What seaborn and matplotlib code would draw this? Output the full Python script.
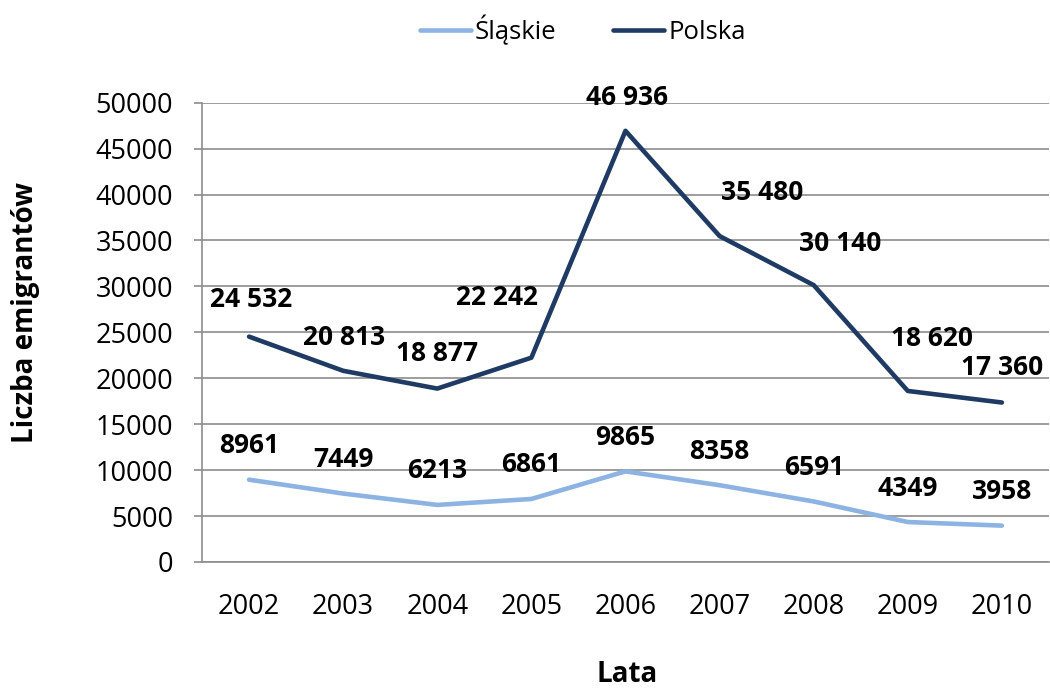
import pandas as pd
import matplotlib
matplotlib.use("Agg")
import matplotlib.pyplot as plt
import seaborn as sns

# --- data ---
years = ["2002", "2003", "2004", "2005", "2006", "2007", "2008", "2009", "2010"]
slaskie = [8961, 7449, 6213, 6861, 9865, 8358, 6591, 4349, 3958]
polska = [24532, 20813, 18877, 22242, 46936, 35480, 30140, 18620, 17360]
y_ticks = [0, 5000, 10000, 15000, 20000, 25000, 30000, 35000, 40000, 45000, 50000]

# label placement (pixels relative to the point)
polska_offsets = [(2, 37), (1, 33), (0, 35), (-34, 60), (2, 33), (43, 44), (26, 42), (24, 52), (0, 35)]
slaskie_offsets = [(0, 34)] * 9

C_SL = "#8DB3E2"
C_PL = "#1F3B63"
GRID = "#8C8C8C"
LW = 3.3

sns.set_style("white")
plt.rcParams["font.family"] = ["Open Sans", "DejaVu Sans"]
plt.rcParams["text.color"] = "black"
plt.rcParams["xtick.color"] = "black"
plt.rcParams["ytick.color"] = "black"

df = pd.DataFrame({
    "Rok": years * 2,
    "Liczba": slaskie + polska,
    "Seria": ["Śląskie"] * len(years) + ["Polska"] * len(years),
})

fig = plt.figure(figsize=(10.5, 6.91), dpi=100)
ax = fig.add_axes([0.1924, 0.1867, 0.8066, 0.6647])

sns.lineplot(data=df, x="Rok", y="Liczba", hue="Seria", sort=False,
             palette={"Śląskie": C_SL, "Polska": C_PL}, linewidth=LW,
             ax=ax, legend=False)

ax.set_xlim(-0.5, len(years) - 0.5)
ax.set_ylim(0, 50000)
ax.set_yticks(y_ticks)
ax.set_yticklabels([str(v) for v in y_ticks])
ax.yaxis.grid(True, color=GRID, linewidth=1.2)
ax.set_axisbelow(True)

ax.set_xticks(range(len(years)))
ax.set_xticklabels(years)
ax.set_xticks([i - 0.5 for i in range(len(years) + 1)], minor=True)
ax.tick_params(axis="x", which="major", length=0, pad=22, labelsize=19.5)
ax.tick_params(axis="x", which="minor", length=6, width=1.2, color=GRID, direction="out")
ax.tick_params(axis="y", length=6, width=1.2, color=GRID, labelcolor="black",
               pad=15, labelsize=19.5, left=True)

for s in ["top", "right"]:
    ax.spines[s].set_visible(False)
for s in ["left", "bottom"]:
    ax.spines[s].set_color(GRID)
    ax.spines[s].set_linewidth(1.2)

ax.set_xlabel("")
ax.set_ylabel("")
fig.text(0.597, 0.024, "Lata", fontsize=20, fontweight="bold", ha="center", va="center")
fig.text(0.024, 0.548, "Liczba emigrantów", fontsize=20, fontweight="bold",
         ha="center", va="center", rotation=90)

def fmt_space(v):
    return f"{v:,}".replace(",", " ")

for i, v in enumerate(polska):
    dx, dy = polska_offsets[i]
    ax.annotate(fmt_space(v), (i, v), xytext=(dx * 0.72, dy * 0.72),
                textcoords="offset points", ha="center", va="center",
                fontsize=19, fontweight="bold", color="black")
for i, v in enumerate(slaskie):
    dx, dy = slaskie_offsets[i]
    ax.annotate(str(v), (i, v), xytext=(dx * 0.72, dy * 0.72),
                textcoords="offset points", ha="center", va="center",
                fontsize=19, fontweight="bold", color="black")

handles = [plt.Line2D([], [], color=C_SL, linewidth=LW, solid_capstyle="round"),
           plt.Line2D([], [], color=C_PL, linewidth=LW, solid_capstyle="round")]
fig.legend(handles, ["Śląskie", "Polska"], loc="center", bbox_to_anchor=(0.555, 0.957),
           ncol=2, frameon=False, fontsize=18.5, handlelength=2.0, handletextpad=0.15,
           columnspacing=2.2)

fig.savefig("out.png", dpi=100)
